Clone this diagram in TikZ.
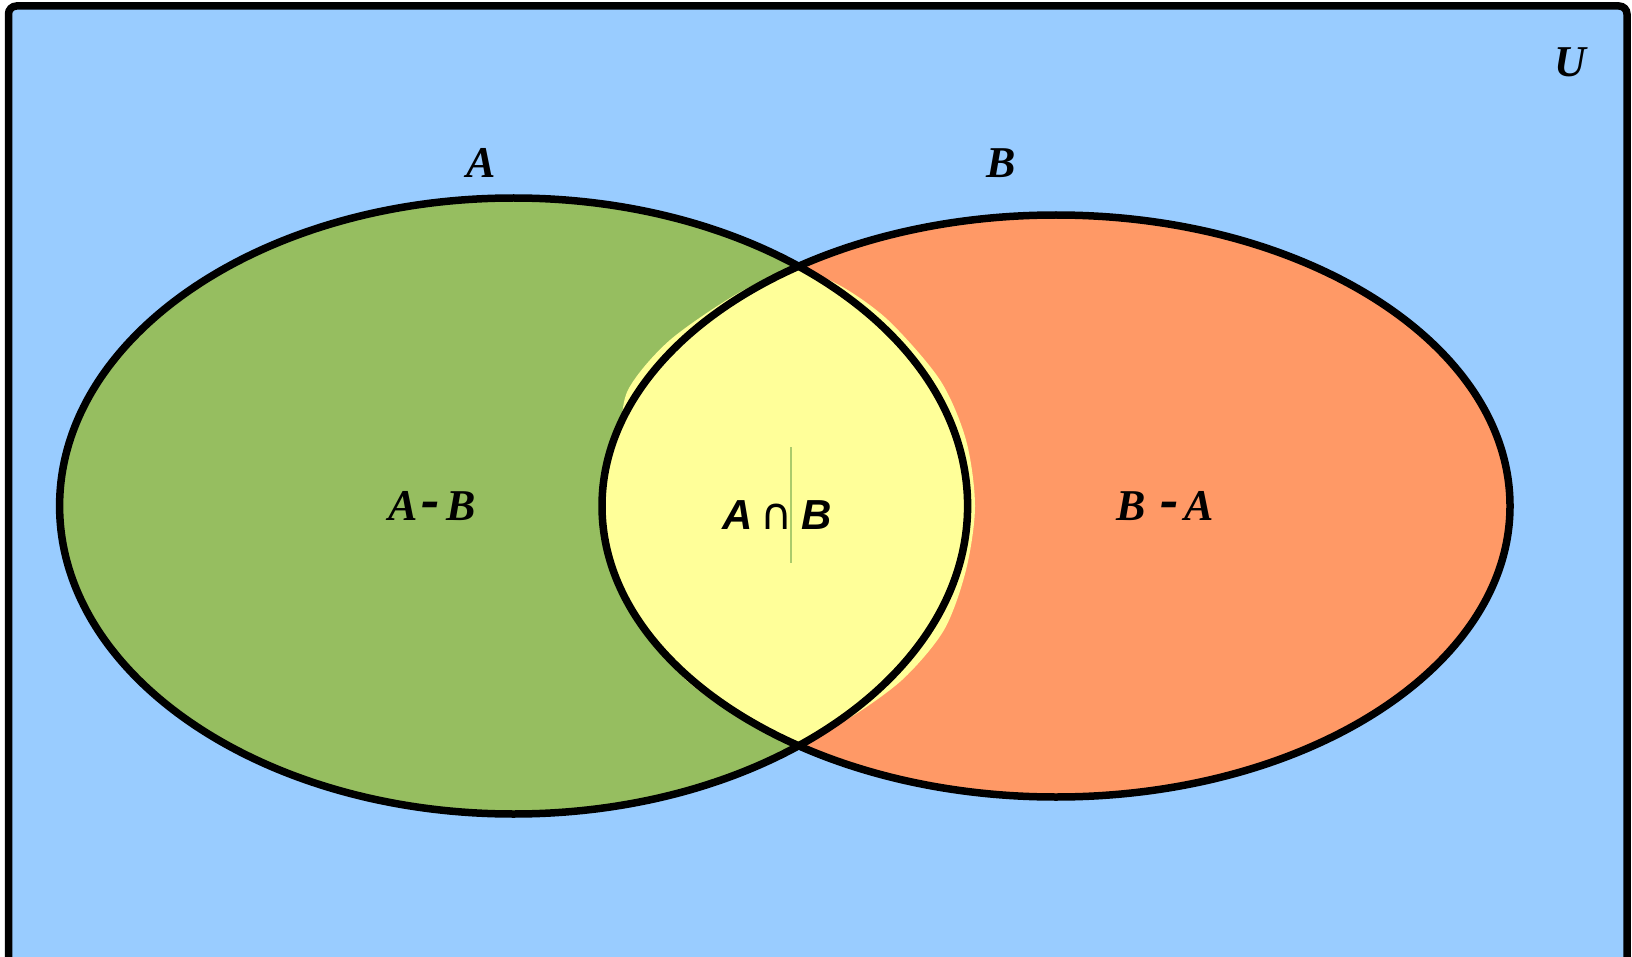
\documentclass[tikz,border=0pt]{standalone}
\usepackage{fontspec}
\usepackage{graphicx}
\setmainfont{Liberation Serif}
\newfontfamily\lsans{Liberation Sans}
\newfontfamily\dvsans{DejaVu Sans}
\definecolor{ublue}{HTML}{99CCFF}
\definecolor{agreen}{HTML}{96BE60}
\definecolor{borange}{HTML}{FF9966}
\definecolor{lyellow}{HTML}{FFFF99}
\newcommand{\thickdash}{\scalebox{1.25}[1.5]{-}}
\begin{document}
\begin{tikzpicture}[x=1pt,y=-1pt,
  setline/.style={line width=7.5pt,draw=black},
  lbl/.style={anchor=base,inner sep=0pt,font=\fontsize{44}{50}\selectfont\bfseries\itshape},
  slbl/.style={anchor=base,inner sep=0pt,font=\fontsize{42}{48}\selectfont\lsans}]
\useasboundingbox (0,0) rectangle (1632,957);
\fill[white] (0,0) rectangle (1632,957);
% universe
\draw[setline,fill=ublue,rounded corners=8pt] (8.5,6) rectangle (1627,995);
% set fills
\fill[agreen] (513.6,506) ellipse [x radius=454pt, y radius=308pt];
\fill[borange] (1056,506) ellipse [x radius=454pt, y radius=291pt];
% intersection fill
\begin{scope}
  \clip (513.6,506) ellipse [x radius=454pt, y radius=308pt];
  \fill[lyellow] (1056,506) ellipse [x radius=454pt, y radius=291pt];
\end{scope}
\fill[lyellow] plot[smooth cycle,tension=0.5] coordinates {
  (797,271) (742,291) (670,340) (628,390) (620,440) (612,506) (619,570)
  (645,630) (686,680) (745,721) (797,741) (846,720) (902,680) (944,630)
  (966,570) (975,506) (966,440) (940,380) (888,320) (839,285)};
\draw[agreen!80!lyellow,line width=1.5pt] (791,447) -- (791,563);
% outlines
\draw[setline] (513.6,506) ellipse [x radius=454pt, y radius=308pt];
\draw[setline] (1056,506) ellipse [x radius=454pt, y radius=291pt];
% labels
\node[lbl] (lu) at (1570,77) {U};
\node[lbl] (la) at (481,178) {A};
\node[lbl] (lb) at (1001,178) {B};
\node[lbl] (lamb) at (432,520) {A\kern4pt\thickdash\kern6pt B};
\node[lbl] (lbma) at (1165,520) {B\kern15pt\thickdash\kern6pt A};
\node[slbl] (lab) at (777,529) {\textbf{\textit{A}}\kern8pt{\dvsans\fontsize{44}{48}\selectfont ∩}\kern8pt\textbf{\textit{B}}};
\end{tikzpicture}
\end{document}
